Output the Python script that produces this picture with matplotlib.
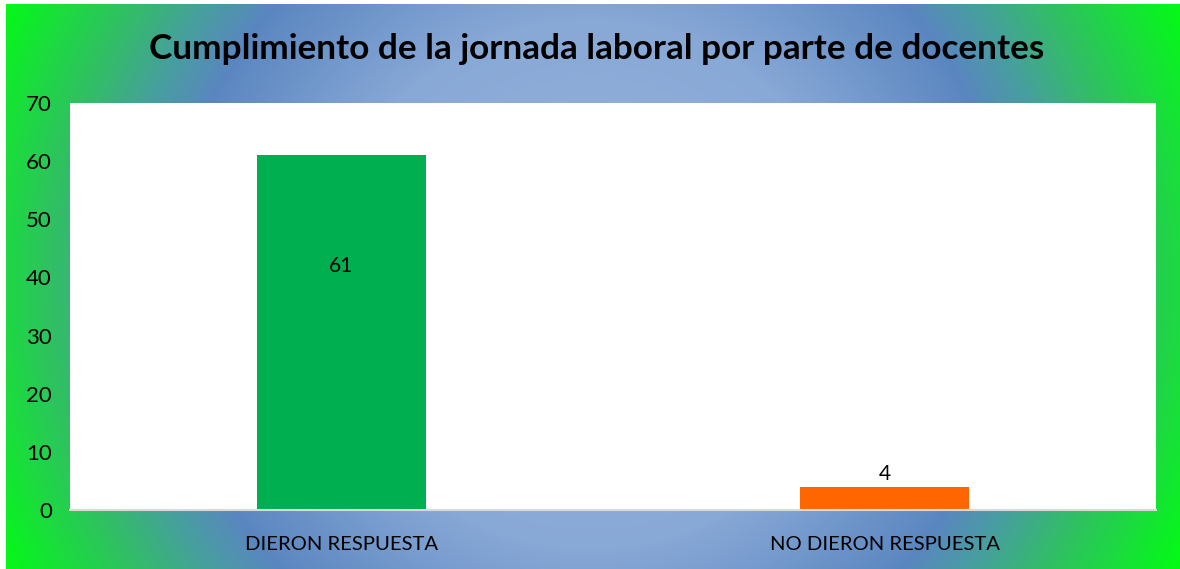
import numpy as np
import matplotlib.pyplot as plt
from matplotlib.colors import LinearSegmentedColormap

# data
categories = ['DIERON RESPUESTA', 'NO DIERON RESPUESTA']
values = [61, 4]
bar_colors = ['#00b050', '#ff6600']
yticks = [0, 10, 20, 30, 40, 50, 60, 70]
title = 'Cumplimiento de la jornada laboral por parte de docentes'

plt.rcParams['font.family'] = ['Lato', 'DejaVu Sans']

W, H = 1180, 569
fig = plt.figure(figsize=(W / 100, H / 100), dpi=100)
fig.patch.set_facecolor('white')

# radial gradient background (light blue centre -> blue ring -> green edge)
bg = fig.add_axes([6 / W, 0, (W - 6) / W, (H - 4) / H])
bw, bh = W - 6, H - 4
yy, xx = np.mgrid[0:bh, 0:bw]
dist = np.hypot(xx - (590 - 6), yy - (284 - 4)) / 660.0
cmap = LinearSegmentedColormap.from_list('bg', [
    (0.00, '#9ab6dc'),
    (0.40, '#88a8d6'),
    (0.64, '#5a86c0'),
    (0.72, '#479f9f'),
    (0.82, '#30c062'),
    (1.00, '#00ff10'),
])
bg.imshow(np.clip(dist, 0, 1), cmap=cmap, vmin=0, vmax=1, aspect='auto',
          interpolation='bilinear')
bg.set_axis_off()

ax = fig.add_axes([70 / W, 59 / H, 1086 / W, 407 / H])
ax.set_facecolor('white')
x = np.arange(len(categories))
ax.bar(x, values, width=0.313, color=bar_colors, zorder=2)
ax.set_xlim(-0.5, 1.5)
ax.set_ylim(0, 70)
ax.set_yticks(yticks)
ax.set_xticks(x)
ax.set_xticklabels(categories, fontsize=14.6)
ax.tick_params(axis='y', length=0, pad=13, labelsize=16)
ax.tick_params(axis='x', length=0, pad=19)
for s in ['top', 'right', 'left']:
    ax.spines[s].set_visible(False)
ax.spines['bottom'].set_color('#d9d9d9')
ax.spines['bottom'].set_linewidth(1.5)

# data labels
ax.text(x[0], 42, str(values[0]), ha='center', va='center', fontsize=15)
ax.text(x[1], values[1] + 2.2, str(values[1]), ha='center', va='center', fontsize=15)

fig.text(597 / W, 1 - 49 / H, title, ha='center', va='center',
         fontsize=25.3, fontweight='bold')

fig.savefig('out.png', dpi=100)
